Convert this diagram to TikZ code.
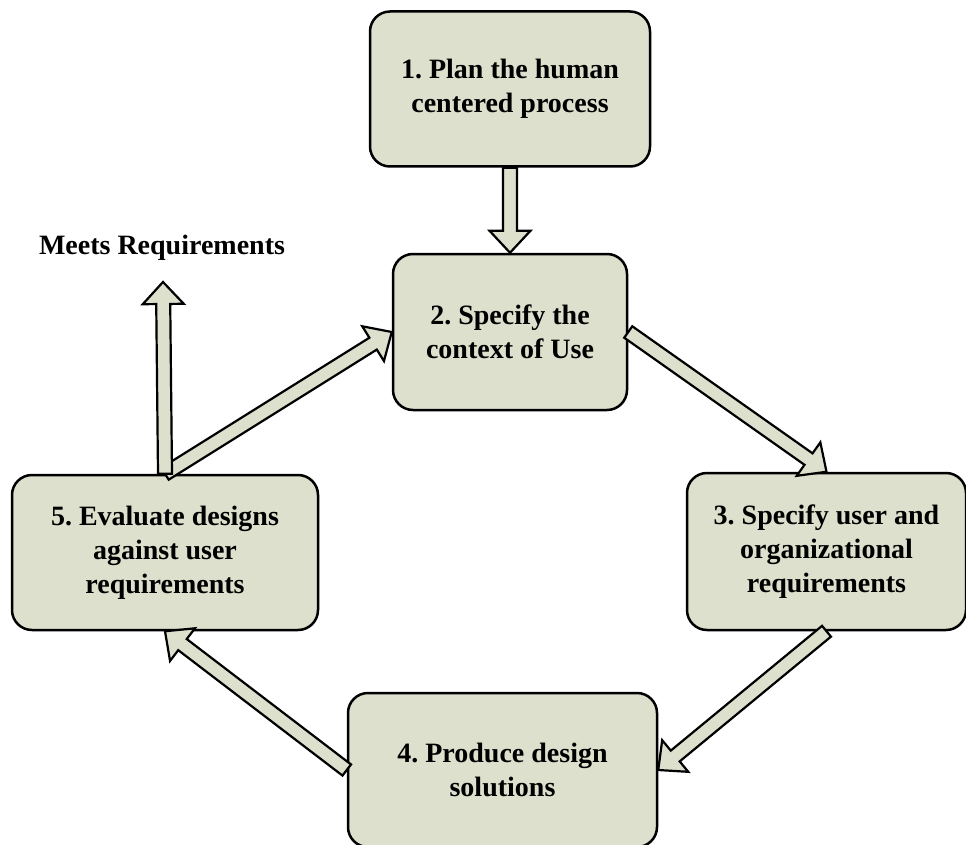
\documentclass[tikz,border=0pt]{standalone}
\usepackage{fontspec}
\setmainfont{Liberation Serif}
\usepackage{xcolor}
\usepackage{tikz}
\usetikzlibrary{positioning}
\usetikzlibrary{calc}
\frenchspacing

\definecolor{boxfill}{RGB}{221,224,204}

\tikzset{
  box/.style={draw, line width=2.5pt, fill=boxfill, rounded corners=20pt,
    align=center, inner sep=0pt,
    font=\fontsize{28}{34}\selectfont\bfseries},
  blockarr/.style={draw, line width=2.2pt, fill=boxfill, line join=miter},
}

% hollow block arrow from #1 to #2
\newcommand{\blockarrow}[2]{%
  \coordinate (bh) at ($(#2)!22pt!(#1)$);
  \draw[blockarr] ($(#1)!7pt!90:(#2)$) -- ($(bh)!7pt!-90:(#1)$)
    -- ($(bh)!20.5pt!-90:(#1)$) -- (#2) -- ($(bh)!20.5pt!90:(#1)$)
    -- ($(bh)!7pt!90:(#1)$) -- ($(#1)!7pt!-90:(#2)$) -- cycle;}

\begin{document}
\begin{tikzpicture}[x=1pt, y=-1pt]
\useasboundingbox (0,0) rectangle (966,845);
%%%%%%%%%%%%%%
\node[box, minimum width=280pt, minimum height=155pt] (s1) at (510,89)
  {1. Plan the human\\centered process};
\node[box, minimum width=234pt, minimum height=156pt, below=85pt of s1] (s2)
  {2. Specify the\\context of Use};
\node[box, minimum width=279pt, minimum height=157pt] (s3) at (826.5,551.5)
  {3. Specify user and\\organizational\\requirements};
\node[box, minimum width=309pt, minimum height=154pt] (s4) at (502.5,770)
  {4. Produce design\\solutions};
\node[box, minimum width=306pt, minimum height=155pt] (s5) at (165,552.5)
  {5. Evaluate designs\\against user\\requirements};
%%%%%%%%%%%%%%
\node[font=\fontsize{28}{34}\selectfont\bfseries] (meets) at (162,248)
  {Meets Requirements};
\coordinate (out) at (163,282);
%%%%%%%%%%%%%%%%%%%%%%%%%%%%%
\blockarrow{s1.south}{s2.north}
\blockarrow{s2.east}{s3.north}
\blockarrow{s3.south}{s4.east}
\blockarrow{s4.west}{s5.south}
\blockarrow{s5.north}{s2.west}
\blockarrow{s5.north}{out}
\end{tikzpicture}
\end{document}
